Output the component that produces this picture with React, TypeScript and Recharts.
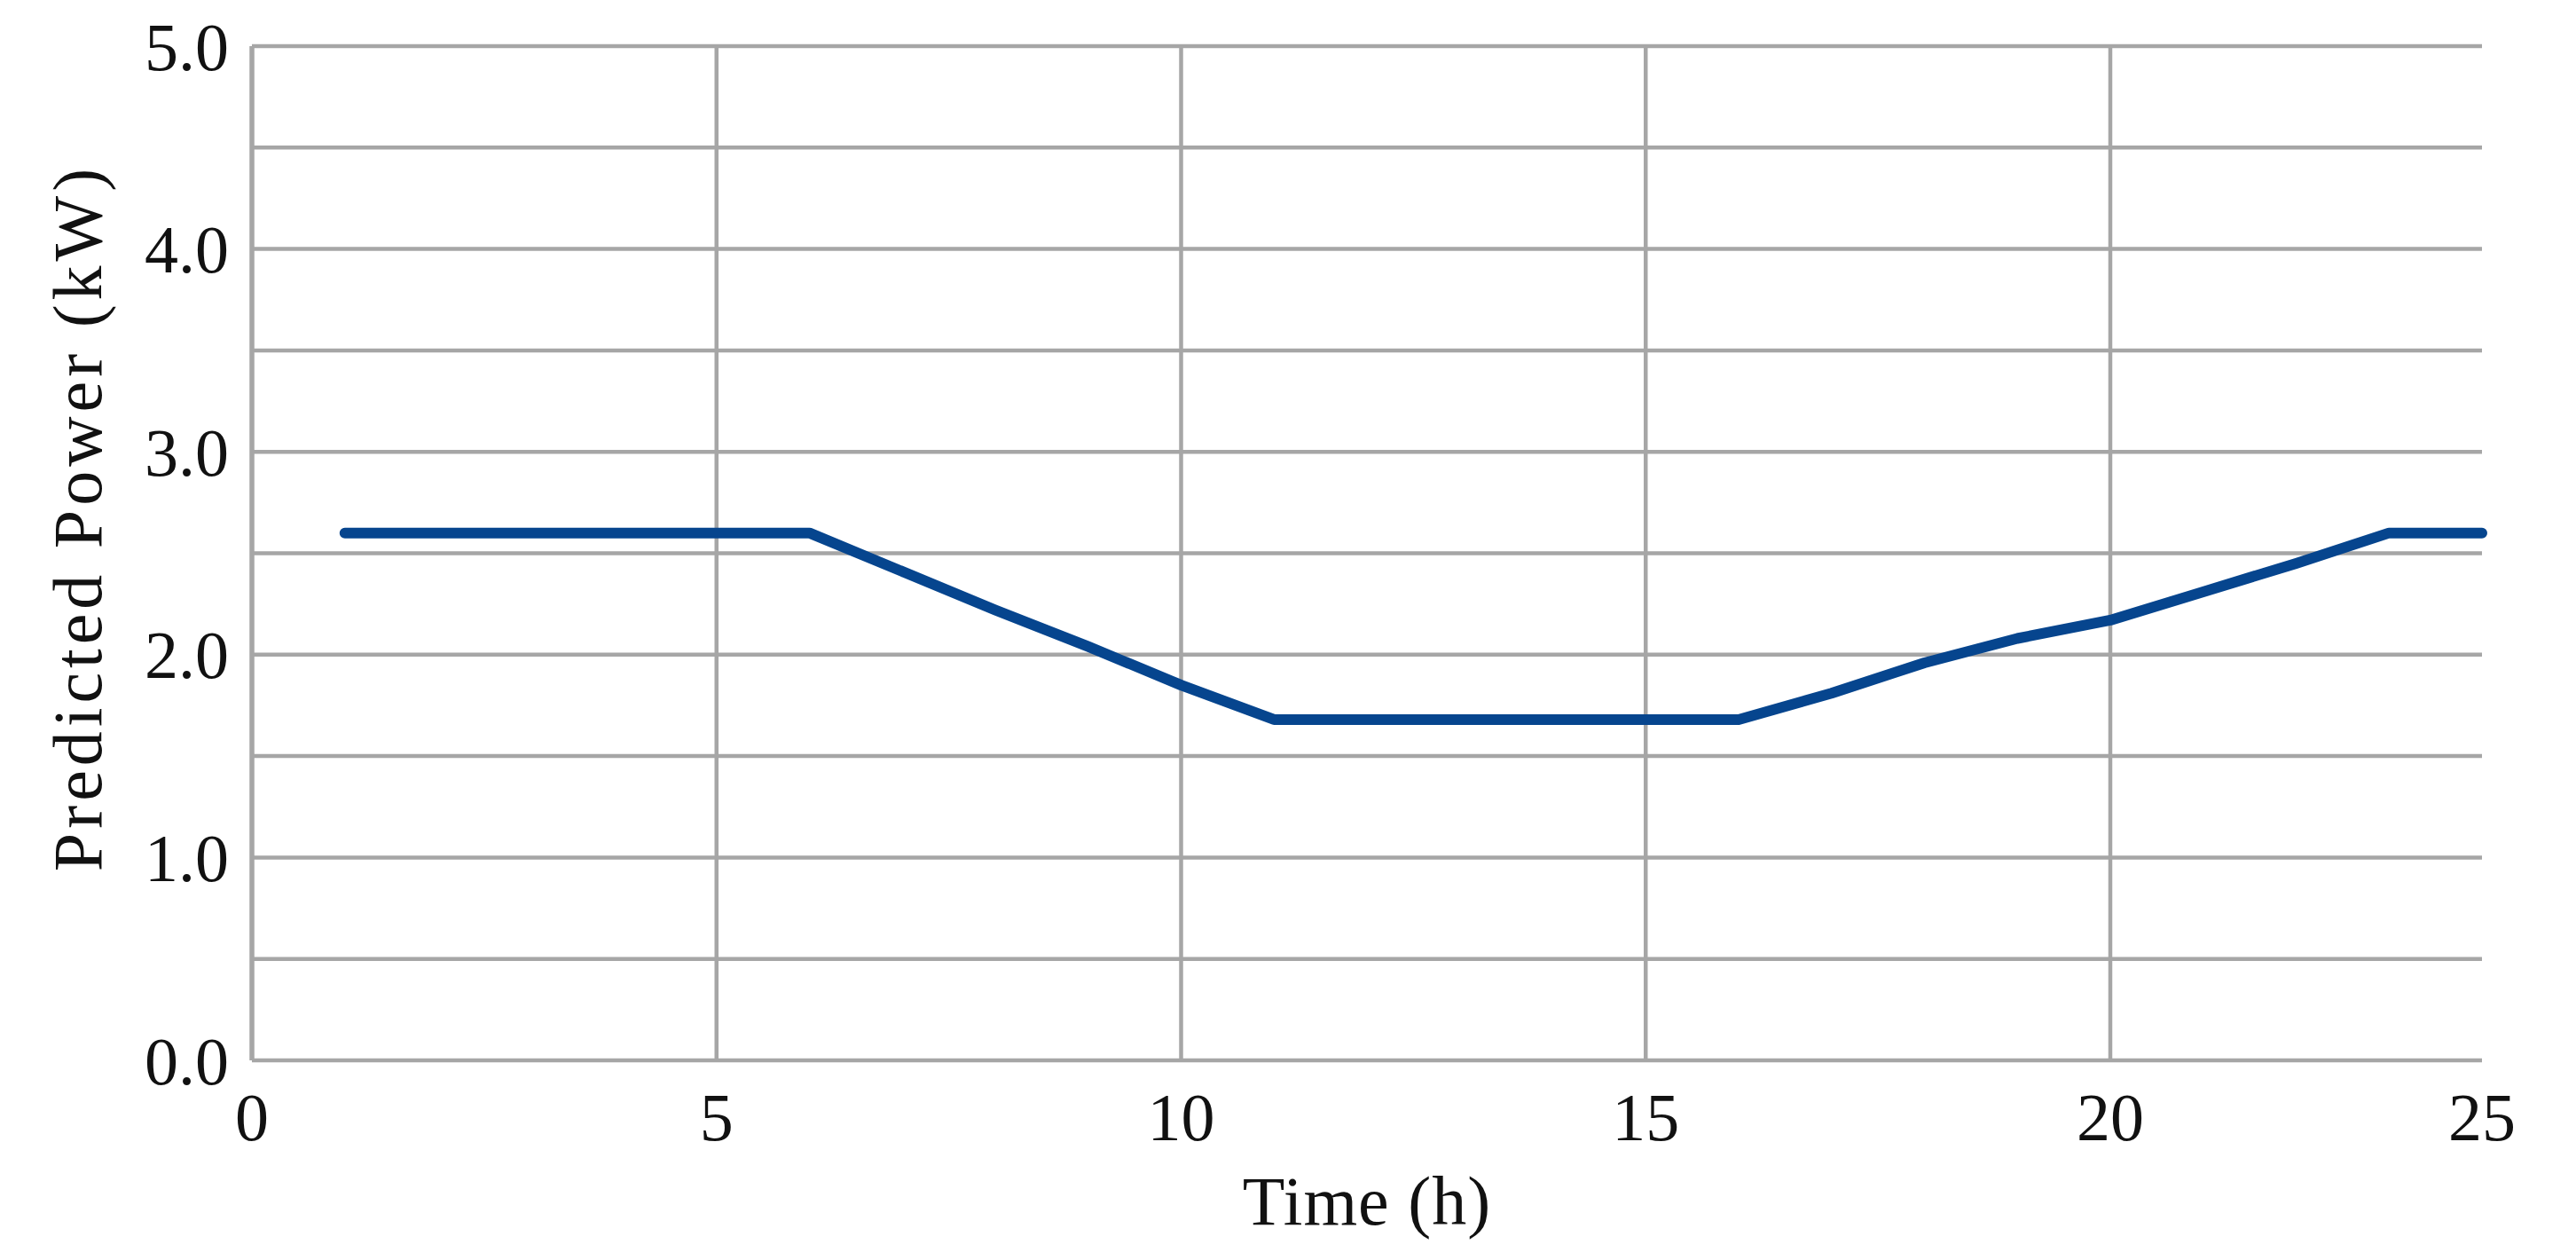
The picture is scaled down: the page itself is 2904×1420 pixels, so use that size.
import React from "react";
import { LineChart, Line, XAxis, YAxis, CartesianGrid, Label } from "recharts";

const HOURS = [1, 2, 3, 4, 5, 6, 7, 8, 9, 10, 11, 12, 13, 14, 15, 16, 17, 18, 19, 20, 21, 22, 23, 24];
const POWER = [2.6, 2.6, 2.6, 2.6, 2.6, 2.6, 2.41, 2.22, 2.04, 1.85, 1.68, 1.68, 1.68, 1.68, 1.68, 1.68, 1.81, 1.96, 2.08, 2.17, 2.31, 2.45, 2.6, 2.6];

const X_TICK_VALUES = [0, 5, 10, 15, 20, 24];
const X_TICK_LABELS = ["0", "5", "10", "15", "20", "25"];
const X_GRID_VALUES = [5, 10, 15, 20];
const Y_TICK_VALUES = [0, 0.5, 1, 1.5, 2, 2.5, 3, 3.5, 4, 4.5, 5];
const Y_TICK_LABELS = ["0.0", "", "1.0", "", "2.0", "", "3.0", "", "4.0", "", "5.0"];

const X_TITLE = "Time (h)";
const Y_TITLE = "Predicted Power (kW)";

const data = HOURS.map((h, i) => ({ hour: h, power: POWER[i] }));

const FONT = "'Liberation Serif', 'Times New Roman', serif";
const GRID = "#a6a6a6";

const YTick = (props: any) => {
  const { x, y, payload } = props;
  const idx = Y_TICK_VALUES.indexOf(payload.value);
  const label = idx >= 0 ? Y_TICK_LABELS[idx] : "";
  if (!label) return null;
  return (
    <text x={x - 26} y={y} dy="0.35em" textAnchor="end" fontFamily={FONT} fontSize={76} fill="#111">
      {label}
    </text>
  );
};

const XTick = (props: any) => {
  const { x, y, payload } = props;
  const idx = X_TICK_VALUES.indexOf(payload.value);
  const label = idx >= 0 ? X_TICK_LABELS[idx] : "";
  return (
    <text x={x} y={y + 63} dy="0.35em" textAnchor="middle" fontFamily={FONT} fontSize={76} fill="#111">
      {label}
    </text>
  );
};

const YTitle = (props: any) => {
  const vb = props.viewBox || {};
  const cx = (vb.x || 0) + 79;
  const cy = (vb.y || 0) + (vb.height || 0) / 2 - 40;
  return (
    <text
      x={cx}
      y={cy}
      dy="0.35em"
      textAnchor="middle"
      transform={`rotate(-90, ${cx}, ${cy})`}
      fontFamily={FONT}
      fontSize={78}
      letterSpacing={5}
      fill="#111"
    >
      {Y_TITLE}
    </text>
  );
};

const XTitle = (props: any) => {
  const vb = props.viewBox || {};
  const cx = (vb.x || 0) + (vb.width || 0) / 2;
  const by = (vb.y || 0) + 185;
  return (
    <text x={cx} y={by} textAnchor="middle" fontFamily={FONT} fontSize={78} letterSpacing={1} fill="#111">
      {X_TITLE}
    </text>
  );
};

export default function App() {
  return (
    <div style={{ width: 2888, height: 1404, background: "#fff" }}>
      <LineChart width={2888} height={1404} data={data} margin={{ top: 44, right: 98, left: 0, bottom: 0 }}>
        <CartesianGrid
          stroke={GRID}
          strokeWidth={4.5}
          verticalValues={X_GRID_VALUES}
          horizontalValues={Y_TICK_VALUES}
        />
        <XAxis
          dataKey="hour"
          type="number"
          domain={[0, 24]}
          ticks={X_TICK_VALUES}
          interval={0}
          axisLine={false}
          tickLine={false}
          tickSize={0}
          tickMargin={0}
          height={217}
          tick={<XTick />}
        >
          <Label content={<XTitle />} />
        </XAxis>
        <YAxis
          type="number"
          domain={[0, 5]}
          ticks={Y_TICK_VALUES}
          interval={0}
          width={276}
          axisLine={{ stroke: GRID, strokeWidth: 5.5 }}
          tickLine={false}
          tickSize={0}
          tickMargin={0}
          tick={<YTick />}
        >
          <Label content={<YTitle />} />
        </YAxis>
        <Line
          type="linear"
          dataKey="power"
          stroke="#06458e"
          strokeWidth={12}
          strokeLinecap="round"
          strokeLinejoin="round"
          dot={false}
          activeDot={false}
          isAnimationActive={false}
        />
      </LineChart>
    </div>
  );
}
